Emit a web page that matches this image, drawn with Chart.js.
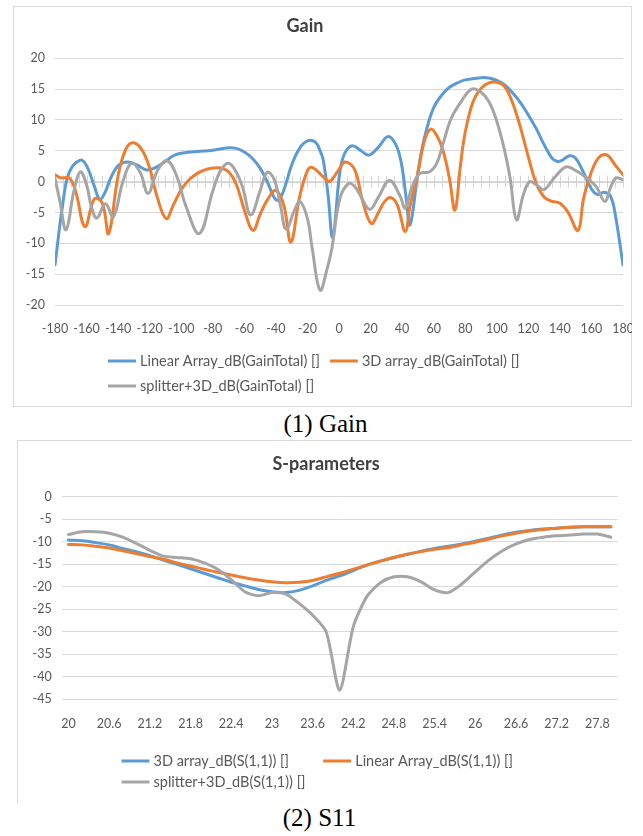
<!DOCTYPE html>
<html>
<head>
<meta charset="utf-8">
<title>Gain and S11</title>
<script src="https://cdn.jsdelivr.net/npm/chart.js@4.4.0/dist/chart.umd.min.js"></script>
<style>
  html, body { margin: 0; padding: 0; background: #fff; }
  body { width: 643px; height: 836px; position: relative; overflow: hidden; }
  .frame { position: absolute; box-sizing: border-box; }
  #gainFrame { left: 13px; top: 6px; width: 619px; height: 401px; border: 1px solid #d9d9d9; }
  #sFrame { left: 17px; top: 440px; width: 615px; height: 364px; border-top: 1px solid #d9d9d9; border-left: 1px solid #d9d9d9; }
  canvas { position: absolute; }
  #gainChart { left: 13px; top: 6px; }
  #sChart { left: 17px; top: 440px; }
  .caption { position: absolute; width: 643px; text-align: center; font-family: "Liberation Serif", "Times New Roman", serif; font-size: 25px; line-height: 1; color: #000; }
</style>
</head>
<body>
<div class="frame" id="gainFrame"></div>
<canvas id="gainChart" width="619" height="401"></canvas>
<div class="caption" style="left:4px; top:411px;">(1) Gain</div>

<div class="frame" id="sFrame"></div>
<canvas id="sChart" width="615" height="364"></canvas>
<div class="caption" style="left:-2px; top:805px;">(2) S11</div>

<script>
// ---------- Gain pattern (angle in degrees, gain in dB) ----------
const gainXTicks = [-180, -160, -140, -120, -100, -80, -60, -40, -20, 0, 20, 40, 60, 80, 100, 120, 140, 160, 180];
const gainYTicks = [-20, -15, -10, -5, 0, 5, 10, 15, 20];

const linearAngles = [-180, -175, -171, -164, -160, -155, -151.5, -148, -145, -140, -134, -128, -122, -117, -110, -105, -100, -90, -80, -70,
  -65, -60, -55, -50, -45, -41, -38.5, -35, -30, -25, -20, -15, -12, -10, -7, -4, 0, 2, 5, 9,
  14, 19, 25, 31, 36, 39.5, 42.5, 45, 50, 52, 55, 60, 65, 70, 75, 80, 90, 95, 100, 105,
  110, 115, 120, 125, 130, 135, 138, 141, 146, 150, 155, 160, 164, 168, 172, 175, 180];
const linearGain = [-13.5, -3.5, 1.5, 3.5, 2.6, -0.8, -2.9, -1.6, 0.4, 2.6, 3.2, 2.7, 1.9, 2.2, 3.3, 4.2, 4.6, 4.9, 5.1, 5.5,
  5.4, 4.8, 3.8, 2.2, -0.3, -2.6, -3.0, -1.4, 2.7, 5.4, 6.6, 6.4, 5.0, 3.5, -2.0, -9.0, 0.5, 3.5, 5.2, 5.8,
  5.0, 4.3, 5.6, 7.3, 6.0, 3.0, -2.5, -7.0, 1.5, 4.5, 8.0, 12.0, 14.0, 15.3, 16.0, 16.5, 16.85, 16.8, 16.4, 15.7,
  14.4, 12.8, 10.8, 8.6, 6.0, 3.8, 3.3, 3.4, 4.2, 3.8, 1.5, -1.2, -2.1, -1.7, -2.3, -5.2, -13.5];

const array3dAngles = [-180, -176, -171, -167, -161, -155, -150, -146, -140, -135, -130.5, -125, -120, -115, -109.5, -105, -100, -95, -90, -85,
  -80, -75, -70, -65, -60, -54.5, -50, -45, -40, -35, -30.5, -25, -20, -17, -10, -6, 0, 4, 10, 15,
  20.5, 25, 29, 33, 37, 42, 45, 50, 54, 58, 62, 66, 70, 73.5, 77, 80, 85, 90, 95, 100,
  105, 110, 115, 120, 125, 130, 135, 140, 145, 151.5, 155, 160, 165, 170, 175, 180];
const array3dGain = [1.1, 0.6, 0.6, -1.5, -7.3, -2.8, -3.5, -8.4, 1.0, 5.3, 6.3, 5.2, 2.2, -2.7, -6.0, -3.8, -1.3, 0.3, 1.3, 1.9,
  2.2, 2.2, 1.6, -0.5, -4.6, -7.9, -5.3, -2.8, -1.4, -3.8, -9.8, -2.5, 1.8, 2.3, 0.8, 0.0, 2.0, 3.2, 1.9, -3.2,
  -6.8, -5.0, -3.2, -2.6, -3.8, -8.1, -4.0, 1.4, 6.5, 8.5, 7.5, 5.0, 0.5, -4.6, 2.7, 8.0, 13.0, 15.1, 16.0, 16.1,
  15.4, 12.8, 8.8, 4.0, -0.3, -2.5, -3.2, -3.5, -4.9, -7.9, -2.7, 1.6, 4.0, 4.3, 2.7, 1.1];

const splitterAngles = [-180, -177, -173, -168, -164, -160, -157, -153.5, -148, -143, -137, -131.5, -126, -121, -115, -109, -103, -97, -88.5, -80,
  -75, -70, -65, -61, -56, -50, -45.5, -41, -37, -33.5, -28, -24.7, -20, -17, -12, -7.5, -4.5, 0.5, 6, 10,
  13.5, 19.5, 25, 32, 38.5, 42, 46, 51, 57.5, 62, 66, 71, 77, 84, 90, 95, 100, 105, 108.5, 112.5,
  117, 121, 126, 130, 137, 144, 150, 157, 163, 168.5, 172, 175.5, 180];
const splitterGain = [0.5, -3.0, -7.8, -1.5, 1.6, -0.5, -4.0, -5.9, -3.6, -5.7, 0.0, 3.0, 1.5, -1.9, 1.8, 3.4, 1.0, -4.0, -8.4, -1.5,
  1.8, 3.0, 1.5, -1.0, -5.4, -1.5, 1.5, 0.3, -4.0, -7.7, -4.5, -3.2, -6.0, -10.8, -17.6, -14.1, -10.8, -2.8, -0.3, -0.8,
  -2.2, -4.5, -2.5, 0.2, -2.2, -4.3, -1.1, 1.3, 1.6, 3.0, 6.2, 10.2, 12.8, 15.0, 14.5, 13.0, 9.8, 5.0, 0.5, -6.2,
  -2.0, 0.0, -0.7, -1.3, 0.8, 2.4, 1.8, 0.6, -0.8, -3.2, -1.0, 0.6, 0.3];

// ---------- Return loss (frequency in GHz, S11 in dB) ----------
const sXTicks = [20, 20.6, 21.2, 21.8, 22.4, 23, 23.6, 24.2, 24.8, 25.4, 26, 26.6, 27.2, 27.8];
const sYTicks = [-45, -40, -35, -30, -25, -20, -15, -10, -5, 0];
const sFreq = [20, 20.2, 20.4, 20.6, 20.8, 21, 21.2, 21.4, 21.6, 21.8, 22, 22.2, 22.4, 22.6, 22.8, 23, 23.2, 23.4, 23.6, 23.8,
  24, 24.2, 24.4, 24.6, 24.8, 25, 25.2, 25.4, 25.6, 25.8, 26, 26.2, 26.4, 26.6, 26.8, 27, 27.2, 27.4, 27.6, 27.8, 28];
const s11Array3d = [-9.6, -9.8, -10.2, -10.7, -11.5, -12.2, -13.1, -14.1, -15.0, -16.0, -17.0, -18.0, -19.0, -19.8, -20.6, -21.1, -21.3, -20.8, -19.8, -18.6,
  -17.6, -16.4, -15.2, -14.3, -13.5, -12.8, -12.1, -11.5, -11.0, -10.5, -9.9, -9.2, -8.5, -7.9, -7.5, -7.2, -7.0, -6.8, -6.7, -6.7, -6.7];
const s11Linear = [-10.6, -10.7, -11.0, -11.4, -12.0, -12.6, -13.3, -13.9, -14.7, -15.4, -16.1, -16.8, -17.4, -18.0, -18.5, -18.9, -19.1, -19.0, -18.6, -17.8,
  -17.0, -16.1, -15.2, -14.3, -13.5, -12.8, -12.2, -11.7, -11.3, -10.7, -10.1, -9.4, -8.7, -8.1, -7.6, -7.3, -7.0, -6.8, -6.7, -6.7, -6.7];
const s11Splitter = [-8.4, -7.8, -7.8, -8.1, -9.0, -10.4, -11.9, -13.2, -13.5, -13.8, -14.7, -16.1, -18.4, -21.1, -22.0, -21.3, -21.6, -23.7, -26.3, -30.0,
  -43.0, -28.9, -22.2, -19.1, -17.8, -17.8, -18.9, -20.7, -21.3, -19.4, -16.7, -14.1, -12.0, -10.5, -9.5, -9.0, -8.7, -8.5, -8.3, -8.3, -9.0];

// ---------- shared styling ----------
const BLUE = '#5B9BD5', ORANGE = '#ED7D31', GREY = '#A5A5A5';
const TICK_COLOR = '#595959', GRID_COLOR = '#d9d9d9';
const FONT = 'Lato, "Open Sans", sans-serif';
Chart.defaults.font.family = FONT;

function points(xs, ys) { return xs.map((x, i) => ({ x: x, y: ys[i] })); }

function lineSet(label, color, data, order) {
  return { label, data, borderColor: color, backgroundColor: color, borderWidth: 3, pointRadius: 0,
           tension: 0.4, borderJoinStyle: 'round', borderCapStyle: 'round', fill: false, order };
}

// Cross tick marks along the zero line (category axis crossing)
function zeroLineTicks(values) {
  return {
    id: 'zeroLineTicks',
    beforeDatasetsDraw(chart) {
      const ctx = chart.ctx, xs = chart.scales.x, ys = chart.scales.y;
      const y0 = ys.getPixelForValue(0);
      ctx.save();
      ctx.strokeStyle = '#d4d4d4';
      ctx.lineWidth = 1;
      ctx.beginPath();
      ctx.moveTo(chart.chartArea.left, Math.round(y0) + 0.5);
      ctx.lineTo(chart.chartArea.right, Math.round(y0) + 0.5);
      values.forEach(v => {
        const x = Math.round(xs.getPixelForValue(v)) + 0.5;
        ctx.moveTo(x, y0 - 6);
        ctx.lineTo(x, y0 + 6);
      });
      ctx.stroke();
      ctx.restore();
    }
  };
}

// Title and a two-column legend in the style of an office chart
function decor(cfg) {
  return {
    id: 'decor',
    afterDraw(chart) {
      const ctx = chart.ctx, ds = chart.data.datasets;
      ctx.save();
      ctx.fillStyle = '#404040';
      ctx.font = 'bold 18px ' + FONT;
      ctx.textAlign = 'center';
      ctx.textBaseline = 'middle';
      ctx.fillText(cfg.title, cfg.titleX, cfg.titleY);

      ctx.font = '14.5px ' + FONT;
      ctx.textAlign = 'left';
      const sample = 28, gap = 4;
      const widths = ds.map(d => sample + gap + ctx.measureText(d.label).width);
      const col = Math.max(...widths) + cfg.colGap;
      cfg.rows.forEach((row, r) => {
        row.forEach((di, c) => {
          const x = cfg.left + c * col, y = cfg.rowY[r];
          ctx.strokeStyle = ds[di].borderColor;
          ctx.lineWidth = 3;
          ctx.beginPath();
          ctx.moveTo(x, y);
          ctx.lineTo(x + sample, y);
          ctx.stroke();
          ctx.fillStyle = TICK_COLOR;
          ctx.fillText(ds[di].label, x + sample + gap, y + 0.5);
        });
      });
      ctx.restore();
    }
  };
}

function axisTicks(list) { return s => { s.ticks = list.map(v => ({ value: v })); }; }
// bottom axis: fixed height, and edge labels may overhang the plot area
function bottomAxisFit(s) { s.height = 30; s.paddingLeft = 0; s.paddingRight = 0; }
const tickFont = { family: FONT, size: 12.5 };

// ---------- Gain chart ----------
const gainMinor = [];
for (let a = -180; a <= 180; a += 5) gainMinor.push(a);

new Chart(document.getElementById('gainChart'), {
  type: 'line',
  data: {
    datasets: [
      lineSet('Linear Array_dB(GainTotal) []', BLUE, points(linearAngles, linearGain), 3),
      lineSet('3D array_dB(GainTotal) []', ORANGE, points(array3dAngles, array3dGain), 2),
      lineSet('splitter+3D_dB(GainTotal) []', GREY, points(splitterAngles, splitterGain), 1)
    ]
  },
  options: {
    responsive: false, animation: false, events: [],
    layout: { padding: { top: 52.3, left: 0, right: 9, bottom: 72 } },
    plugins: { legend: { display: false }, title: { display: false }, tooltip: { enabled: false } },
    scales: {
      x: {
        type: 'linear', min: -180, max: 180,
        afterBuildTicks: axisTicks(gainXTicks),
        afterFit: bottomAxisFit,
        grid: { display: false }, border: { display: false },
        ticks: { color: TICK_COLOR, font: tickFont, padding: 8, maxRotation: 0, autoSkip: false, callback: v => String(v) }
      },
      y: {
        type: 'linear', min: -20, max: 20,
        afterBuildTicks: axisTicks(gainYTicks),
        afterFit: s => { s.width = 42; },
        grid: { color: GRID_COLOR, drawTicks: false, lineWidth: 1 }, border: { display: false },
        ticks: { color: TICK_COLOR, font: tickFont, padding: 10, callback: v => String(v) }
      }
    }
  },
  plugins: [zeroLineTicks(gainMinor), decor({ title: 'Gain', titleX: 292, titleY: 20, left: 95, rowY: [355, 380], rows: [[0, 1], [2]], colGap: 10 })]
});

// ---------- S-parameter chart ----------
new Chart(document.getElementById('sChart'), {
  type: 'line',
  data: {
    datasets: [
      lineSet('3D array_dB(S(1,1)) []', BLUE, points(sFreq, s11Array3d), 3),
      lineSet('Linear Array_dB(S(1,1)) []', ORANGE, points(sFreq, s11Linear), 2),
      Object.assign(lineSet('splitter+3D_dB(S(1,1)) []', GREY, points(sFreq, s11Splitter), 1), { tension: 0.25 })
    ]
  },
  options: {
    responsive: false, animation: false, events: [],
    layout: { padding: { top: 56.7, left: 0, right: 14.3, bottom: 74.7 } },
    plugins: { legend: { display: false }, title: { display: false }, tooltip: { enabled: false } },
    scales: {
      x: {
        type: 'linear', min: 19.9, max: 28.1,
        afterBuildTicks: axisTicks(sXTicks),
        afterFit: bottomAxisFit,
        grid: { display: false }, border: { display: false },
        ticks: { color: TICK_COLOR, font: tickFont, padding: 9, maxRotation: 0, autoSkip: false, callback: v => String(v) }
      },
      y: {
        type: 'linear', min: -45, max: 0,
        afterBuildTicks: axisTicks(sYTicks),
        afterFit: s => { s.width = 44.7; },
        grid: { color: GRID_COLOR, drawTicks: false, lineWidth: 1 }, border: { display: false },
        ticks: { color: TICK_COLOR, font: tickFont, padding: 10, callback: v => String(v) }
      }
    }
  },
  plugins: [decor({ title: 'S-parameters', titleX: 309, titleY: 24, left: 104.5, rowY: [321, 342], rows: [[0, 1], [2]], colGap: 12 })]
});
</script>
</body>
</html>
